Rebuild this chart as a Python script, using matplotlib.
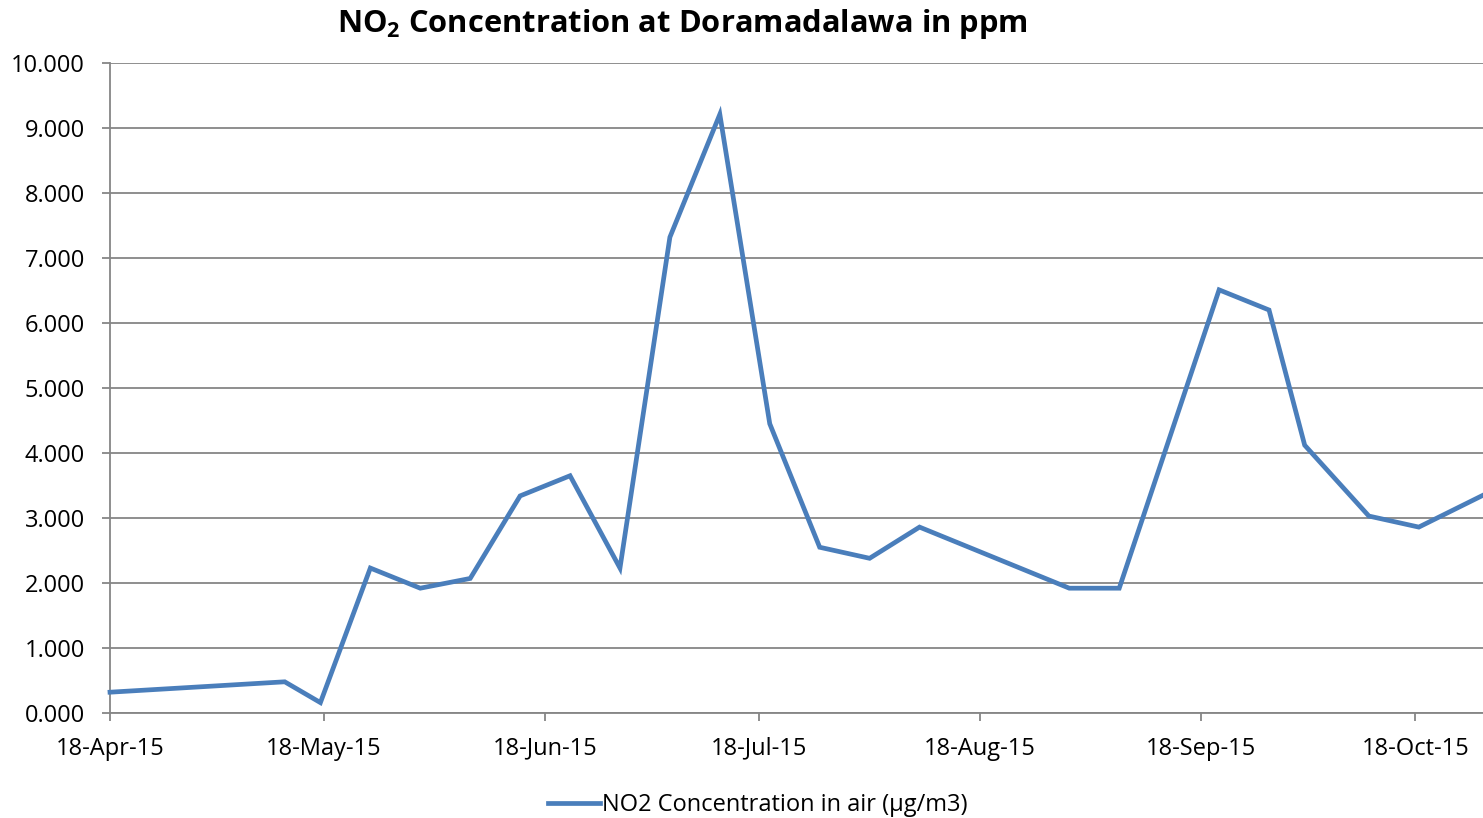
import matplotlib
matplotlib.use("Agg")
import matplotlib.pyplot as plt
import matplotlib.dates as mdates
import pandas as pd

dates = ['2015-04-18 00:00', '2015-05-12 12:00', '2015-05-17 12:00', '2015-05-24 12:00',
         '2015-05-31 12:00', '2015-06-07 12:00', '2015-06-14 12:00', '2015-06-21 12:00',
         '2015-06-28 12:00', '2015-07-05 12:00', '2015-07-12 12:00', '2015-07-19 12:00',
         '2015-07-26 12:00', '2015-08-02 12:00', '2015-08-09 12:00', '2015-08-30 12:00',
         '2015-09-06 12:00', '2015-09-20 12:00', '2015-09-27 12:00', '2015-10-02 12:00',
         '2015-10-11 12:00', '2015-10-18 12:00', '2015-10-27 12:00']
no2_values = [0.32, 0.48, 0.16, 2.23, 1.92, 2.07, 3.34, 3.65, 2.23, 7.32, 9.21, 4.45,
              2.55, 2.38, 2.86, 1.92, 1.92, 6.51, 6.20, 4.12, 3.03, 2.86, 3.35]
tick_dates = ['2015-04-18', '2015-05-18', '2015-06-18', '2015-07-18',
              '2015-08-18', '2015-09-18', '2015-10-18']
y_ticks = [0, 1, 2, 3, 4, 5, 6, 7, 8, 9, 10]
series_label = 'NO2 Concentration in air (µg/m3)'
title_text = r'NO$_\mathbf{2}$ Concentration at Doramadalawa in ppm'

FONT = 'Open Sans'
plt.rcParams['font.family'] = [FONT, 'DejaVu Sans']
plt.rcParams['mathtext.fontset'] = 'custom'
plt.rcParams['mathtext.rm'] = FONT
plt.rcParams['mathtext.bf'] = FONT + ':bold'

W, H = 1483, 818
fig = plt.figure(figsize=(W / 100, H / 100), dpi=100)
ax = fig.add_axes([110 / W, 1 - 713 / H, (1483 - 110) / W, (713 - 63) / H])

x = pd.to_datetime(dates)
line_color = '#4a7ebb'
grid_color = '#868686'
ax.plot(x, no2_values, color=line_color, lw=3.4, solid_joinstyle='miter',
        label=series_label, clip_on=False, zorder=3)

ax.set_xlim(pd.Timestamp(dates[0]), pd.Timestamp(dates[-1]))
ax.set_ylim(0, 10)
ax.set_yticks(y_ticks)
ax.set_yticklabels([f'{v:.3f}' for v in y_ticks])
ax.set_xticks(pd.to_datetime(tick_dates))
ax.xaxis.set_major_formatter(mdates.DateFormatter('%d-%b-%y'))

ax.yaxis.grid(True, color=grid_color, lw=1.3)
ax.set_axisbelow(True)
for s in ['top', 'right']:
    ax.spines[s].set_visible(False)
for s in ['left', 'bottom']:
    ax.spines[s].set_color(grid_color)
    ax.spines[s].set_linewidth(1.3)
ax.tick_params(axis='both', direction='out', length=6, width=1.3, color=grid_color,
               labelsize=17, labelcolor='black')
ax.tick_params(axis='y', pad=12)
ax.tick_params(axis='x', pad=11)

fig.text(682 / W, 1 - 24 / H, title_text, ha='center', va='center',
         fontsize=22.2, fontweight='bold')

fig.legend(loc='center', bbox_to_anchor=(758 / W, 1 - 805 / H), frameon=False,
           fontsize=17, handlelength=2.2, handletextpad=0.1)

fig.savefig('out.png', dpi=100)
